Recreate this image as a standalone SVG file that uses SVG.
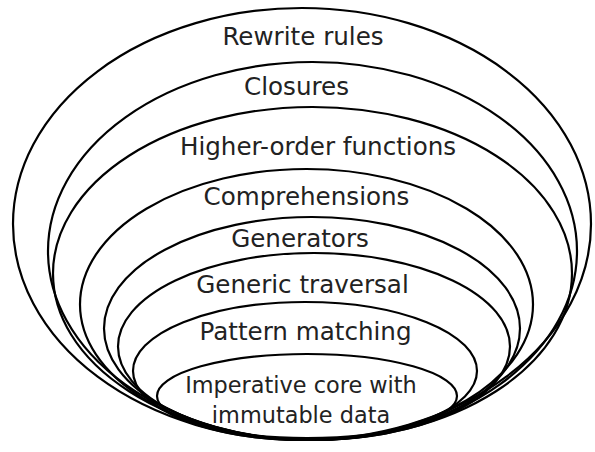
<svg xmlns="http://www.w3.org/2000/svg" width="595" height="452" viewBox="0 0 595 452">
<style>
.ring{fill:none;stroke:#000;stroke-width:2.2}
.lbl{font-family:"DejaVu Sans",sans-serif;font-size:24.6px;fill:#222;text-anchor:middle}
.core{font-size:22.4px}
</style>
<rect width="595" height="452" fill="#fff"/>
<g id="rewrite-rules"><ellipse class="ring" cx="302" cy="224" rx="289" ry="216"/><text class="lbl" x="303" y="45">Rewrite rules</text></g>
<g id="closures"><ellipse class="ring" cx="312.5" cy="251" rx="264.5" ry="189"/><text class="lbl" x="296.5" y="95">Closures</text></g>
<g id="higher-order-functions"><ellipse class="ring" cx="312.5" cy="273.5" rx="259.5" ry="166.5"/><text class="lbl" x="318" y="155">Higher-order functions</text></g>
<g id="comprehensions"><ellipse class="ring" cx="306.5" cy="304.5" rx="226.5" ry="135.5"/><text class="lbl" x="306.5" y="205">Comprehensions</text></g>
<g id="generators"><ellipse class="ring" cx="312" cy="328.5" rx="208" ry="111.5"/><text class="lbl" x="300" y="247">Generators</text></g>
<g id="generic-traversal"><ellipse class="ring" cx="314" cy="346.5" rx="196" ry="93.5"/><text class="lbl" x="302.5" y="293">Generic traversal</text></g>
<g id="pattern-matching"><ellipse class="ring" cx="305" cy="371" rx="172" ry="69"/><text class="lbl" x="305.5" y="340">Pattern matching</text></g>
<g id="imperative-core"><ellipse class="ring" cx="307" cy="396" rx="150" ry="42"/><text class="lbl core" x="301" y="393">Imperative core with</text><text class="lbl core" x="301" y="423">immutable data</text></g>
</svg>
